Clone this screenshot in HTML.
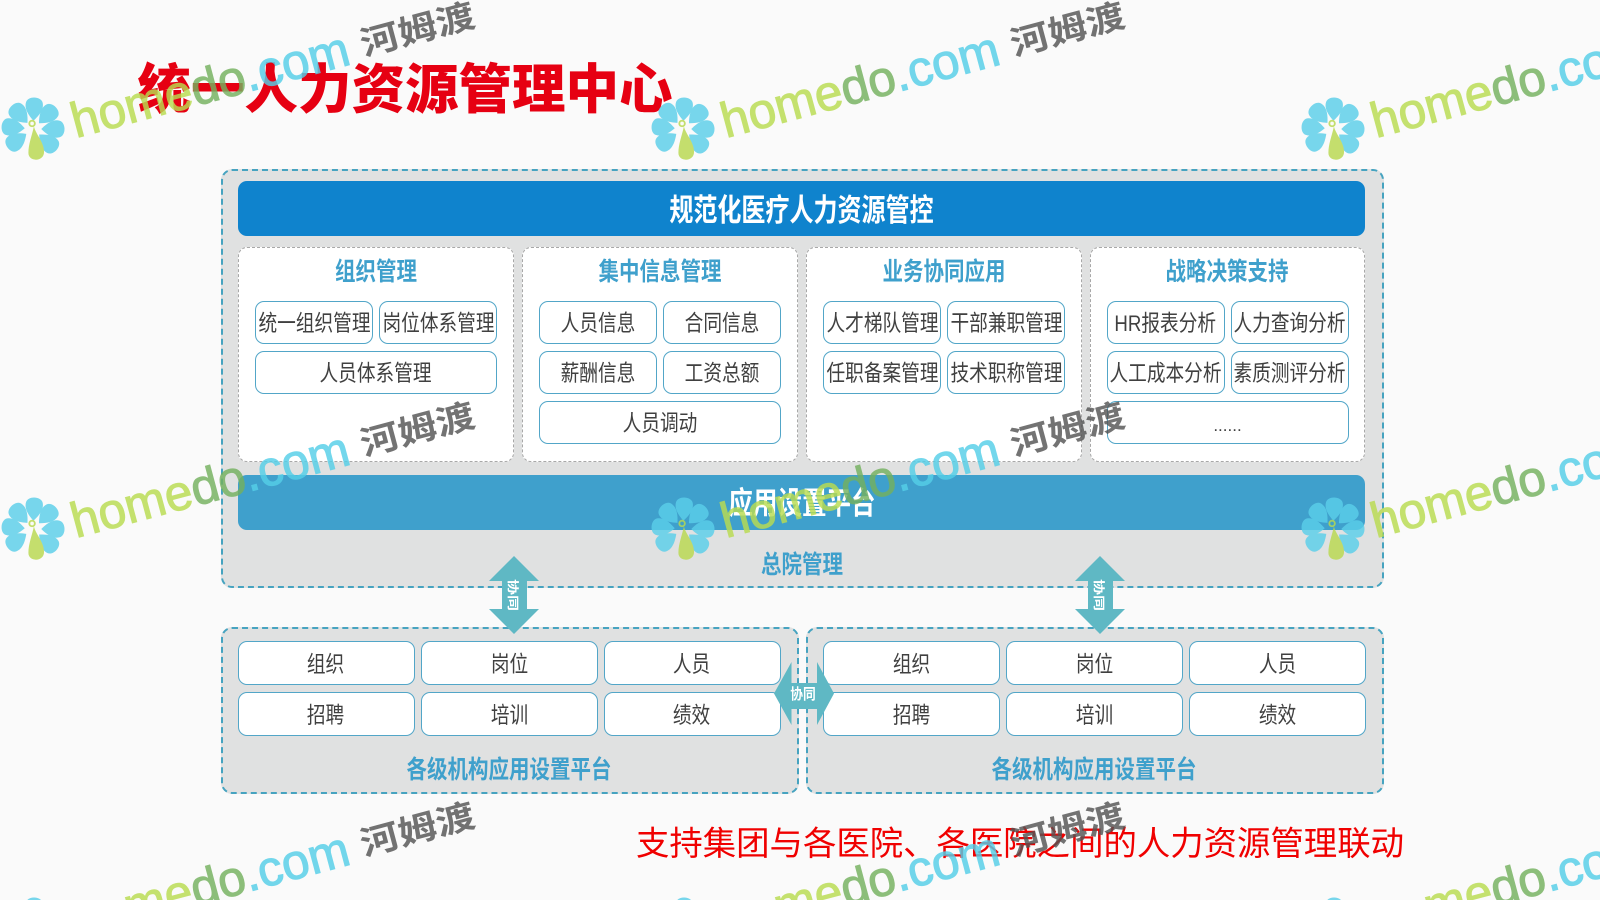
<!DOCTYPE html>
<html lang="zh">
<head>
<meta charset="utf-8">
<title>统一人力资源管理中心</title>
<style>
html,body{margin:0;padding:0;background:#fafafa;width:1600px;height:900px;overflow:hidden}
#p{position:relative;width:1600px;height:900px;overflow:hidden;background:#fafafa;font-family:"Liberation Sans","Noto Sans CJK SC",sans-serif}
#p div{position:absolute;box-sizing:border-box}
.c{display:flex;align-items:center;justify-content:center;white-space:nowrap}
.c span{display:inline-block;white-space:nowrap}
.panel{background:#e0e1e1;border:2px dashed #46a3c0;border-radius:11px}
.card{background:#fff;border:1px dashed #a8a8a8;border-radius:9px;width:275.5px;top:246.5px;height:215.5px}
.ct{left:0;right:0;top:4px;height:36px;color:#3fa0cc;font-weight:700;font-size:25px}
.ct span{transform:scaleX(.82)}
.b{background:#fff;border:1.5px solid #52a6c8;border-radius:9px;color:#404040;font-size:22.5px}
.b span{transform:scaleX(.83)}
.s{width:118px;height:43.5px}
.w{width:242px;height:43.5px;left:16px}
.l1{left:16px}.l2{left:140px}
.r1{top:53px}.r2{top:103px}.r3{top:153px}
.o{width:177px;height:44px}
.y1{top:641px}.y2{top:691.5px}
.lab{color:#3fa0cc;font-weight:700;font-size:25px}
.lab span{transform:scaleX(.82)}
.h{font-size:49.5px;stroke-width:1.1px}
.he{font-size:39px;font-weight:700;fill:#555}
</style>
</head>
<body>
<div id="p">

<div class="panel" style="left:220.5px;top:168.5px;width:1163.5px;height:419.5px"></div>
<div class="c" style="left:238px;top:181px;width:1127px;height:55px;background:#0f83cd;border-radius:9px;color:#fff;font-weight:700;font-size:31px"><span style="transform:scaleX(.775);margin-top:-2px">规范化医疗人力资源管控</span></div>

<div class="card" style="left:238px">
  <div class="ct c"><span>组织管理</span></div>
  <div class="b s c l1 r1"><span>统一组织管理</span></div>
  <div class="b s c l2 r1"><span>岗位体系管理</span></div>
  <div class="b w c r2"><span>人员体系管理</span></div>
</div>
<div class="card" style="left:522px">
  <div class="ct c"><span>集中信息管理</span></div>
  <div class="b s c l1 r1"><span>人员信息</span></div>
  <div class="b s c l2 r1"><span>合同信息</span></div>
  <div class="b s c l1 r2"><span>薪酬信息</span></div>
  <div class="b s c l2 r2"><span>工资总额</span></div>
  <div class="b w c r3"><span>人员调动</span></div>
</div>
<div class="card" style="left:806px">
  <div class="ct c"><span>业务协同应用</span></div>
  <div class="b s c l1 r1"><span>人才梯队管理</span></div>
  <div class="b s c l2 r1"><span>干部兼职管理</span></div>
  <div class="b s c l1 r2"><span>任职备案管理</span></div>
  <div class="b s c l2 r2"><span>技术职称管理</span></div>
</div>
<div class="card" style="left:1089.5px">
  <div class="ct c"><span>战略决策支持</span></div>
  <div class="b s c l1 r1"><span>HR报表分析</span></div>
  <div class="b s c l2 r1"><span>人力查询分析</span></div>
  <div class="b s c l1 r2"><span>人工成本分析</span></div>
  <div class="b s c l2 r2"><span>素质测评分析</span></div>
  <div class="b w c r3" style="font-size:17px;padding-top:8px"><span style="transform:none">......</span></div>
</div>

<div class="c" style="left:238px;top:475px;width:1127px;height:54.5px;background:#3fa0cc;border-radius:9px;color:#fff;font-weight:700;font-size:31px"><span style="transform:scaleX(.79);margin-top:-3px">应用设置平台</span></div>
<div class="lab c" style="left:221px;top:545px;width:1163px;height:36px"><span>总院管理</span></div>

<div class="panel" style="left:220.5px;top:626.5px;width:578px;height:167px"></div>
<div class="panel" style="left:806px;top:626.5px;width:578px;height:167px"></div>

<div class="b o c y1" style="left:237.5px"><span>组织</span></div>
<div class="b o c y1" style="left:421px"><span>岗位</span></div>
<div class="b o c y1" style="left:603.5px"><span>人员</span></div>
<div class="b o c y2" style="left:237.5px"><span>招聘</span></div>
<div class="b o c y2" style="left:421px"><span>培训</span></div>
<div class="b o c y2" style="left:603.5px"><span>绩效</span></div>
<div class="lab c" style="left:221px;top:750px;width:577px;height:36px"><span>各级机构应用设置平台</span></div>

<div class="b o c y1" style="left:823px"><span>组织</span></div>
<div class="b o c y1" style="left:1006px"><span>岗位</span></div>
<div class="b o c y1" style="left:1189px"><span>人员</span></div>
<div class="b o c y2" style="left:823px"><span>招聘</span></div>
<div class="b o c y2" style="left:1006px"><span>培训</span></div>
<div class="b o c y2" style="left:1189px"><span>绩效</span></div>
<div class="lab c" style="left:806px;top:750px;width:577px;height:36px"><span>各级机构应用设置平台</span></div>

<svg width="1600" height="900" style="position:absolute;left:0;top:0">
  <polygon points="514,556 539,581 527,581 527,609 539,609 514,634 489,609 502,609 502,581 489,581" fill="#5fb8c4"/>
  <polygon points="1100,556 1125,581 1113,581 1113,609 1125,609 1100,634 1075,609 1088,609 1088,581 1075,581" fill="#5fb8c4"/>
  <polygon points="774,693.5 791.5,662 791.5,683 817,683 817,662 834,693.5 817,725 817,709 791.5,709 791.5,725" fill="#5fb8c4"/>
  <text transform="translate(509,595) rotate(90) scale(1,.72)" text-anchor="middle" font-family="'Liberation Sans','Noto Sans CJK SC',sans-serif" font-weight="700" font-size="16" fill="#fff">协同</text>
  <text transform="translate(1095,595) rotate(90) scale(1,.72)" text-anchor="middle" font-family="'Liberation Sans','Noto Sans CJK SC',sans-serif" font-weight="700" font-size="16" fill="#fff">协同</text>
  <text transform="translate(803,699) scale(.85,1)" text-anchor="middle" font-family="'Liberation Sans','Noto Sans CJK SC',sans-serif" font-weight="700" font-size="15" fill="#fff">协同</text>
</svg>

<div class="c" style="left:139px;top:53px;width:532px;height:64px;color:#e60012;font-size:53.5px;font-weight:900"><span>统一人力资源管理中心</span></div>
<div class="c" style="left:600px;top:817px;width:840px;height:46px;color:#f00000;font-size:33.4px"><span>支持集团与各医院、各医院之间的人力资源管理联动</span></div>

<svg width="1600" height="900" style="position:absolute;left:0;top:0;opacity:.82" font-family="'Liberation Sans','Noto Sans CJK SC',sans-serif">
  <defs>
    <g id="fl" transform="scale(.92)">
      <g fill="#5bcfea">
        <path d="M0,-9 C-6,-15 -11,-22 -9,-29 C-7,-36 7,-36 9,-29 C11,-22 6,-15 0,-9Z" transform="rotate(3)"/>
        <path d="M0,-9 C-6,-15 -11,-22 -9,-29 C-7,-36 7,-36 9,-29 C11,-22 6,-15 0,-9Z" transform="rotate(-42)"/>
        <path d="M0,-9 C-6,-15 -11,-22 -9,-29 C-7,-36 7,-36 9,-29 C11,-22 6,-15 0,-9Z" transform="rotate(46)"/>
        <path d="M0,-9 C-6,-15 -11,-22 -9,-29 C-7,-36 7,-36 9,-29 C11,-22 6,-15 0,-9Z" transform="rotate(-85)"/>
        <path d="M0,-9 C-6,-15 -11,-22 -9,-29 C-7,-36 7,-36 9,-29 C11,-22 6,-15 0,-9Z" transform="rotate(90)"/>
        <path d="M0,-9 C-6,-15 -11,-22 -9,-29 C-7,-36 7,-36 9,-29 C11,-22 6,-15 0,-9Z" transform="rotate(-126)"/>
        <path d="M0,-9 C-6,-15 -11,-22 -9,-29 C-7,-36 7,-36 9,-29 C11,-22 6,-15 0,-9Z" transform="rotate(132)"/>
      </g>
      <path d="M1,-3 C3,6 12,14 12,25 C12,36 -5,36 -5,26 C-5,16 -1,7 1,-3Z" fill="#b9d94f"/>
      <circle cx="-1" cy="-6" r="3" fill="none" stroke="#b9d94f" stroke-width="2"/>
    </g>
  </defs>

  <g>
    <use href="#fl" x="0" y="0" transform="translate(33,129)"/>
    <text class="h" transform="translate(76,138) rotate(-15)"><tspan fill="#b9dc50" stroke="#b9dc50">home</tspan><tspan fill="#74b15f" stroke="#74b15f">do</tspan><tspan fill="#55cfe8" stroke="#55cfe8">.com</tspan></text>
    <text class="he" transform="translate(364,56) rotate(-15) scale(1,.86)">河姆渡</text>
  </g>
  <g transform="translate(650,0)">
    <use href="#fl" x="0" y="0" transform="translate(33,129)"/>
    <text class="h" transform="translate(76,138) rotate(-15)"><tspan fill="#b9dc50" stroke="#b9dc50">home</tspan><tspan fill="#74b15f" stroke="#74b15f">do</tspan><tspan fill="#55cfe8" stroke="#55cfe8">.com</tspan></text>
    <text class="he" transform="translate(364,56) rotate(-15) scale(1,.86)">河姆渡</text>
  </g>
  <g transform="translate(1300,0)">
    <use href="#fl" x="0" y="0" transform="translate(33,129)"/>
    <text class="h" transform="translate(76,138) rotate(-15)"><tspan fill="#b9dc50" stroke="#b9dc50">home</tspan><tspan fill="#74b15f" stroke="#74b15f">do</tspan><tspan fill="#55cfe8" stroke="#55cfe8">.com</tspan></text>
  </g>

  <g transform="translate(0,400)">
    <use href="#fl" x="0" y="0" transform="translate(33,129)"/>
    <text class="h" transform="translate(76,138) rotate(-15)"><tspan fill="#b9dc50" stroke="#b9dc50">home</tspan><tspan fill="#74b15f" stroke="#74b15f">do</tspan><tspan fill="#55cfe8" stroke="#55cfe8">.com</tspan></text>
    <text class="he" transform="translate(364,56) rotate(-15) scale(1,.86)">河姆渡</text>
  </g>
  <g transform="translate(650,400)">
    <use href="#fl" x="0" y="0" transform="translate(33,129)"/>
    <text class="h" transform="translate(76,138) rotate(-15)"><tspan fill="#b9dc50" stroke="#b9dc50">home</tspan><tspan fill="#74b15f" stroke="#74b15f">do</tspan><tspan fill="#55cfe8" stroke="#55cfe8">.com</tspan></text>
    <text class="he" transform="translate(364,56) rotate(-15) scale(1,.86)">河姆渡</text>
  </g>
  <g transform="translate(1300,400)">
    <use href="#fl" x="0" y="0" transform="translate(33,129)"/>
    <text class="h" transform="translate(76,138) rotate(-15)"><tspan fill="#b9dc50" stroke="#b9dc50">home</tspan><tspan fill="#74b15f" stroke="#74b15f">do</tspan><tspan fill="#55cfe8" stroke="#55cfe8">.com</tspan></text>
  </g>

  <g transform="translate(0,800)">
    <use href="#fl" x="0" y="0" transform="translate(33,129)"/>
    <text class="h" transform="translate(76,138) rotate(-15)"><tspan fill="#b9dc50" stroke="#b9dc50">home</tspan><tspan fill="#74b15f" stroke="#74b15f">do</tspan><tspan fill="#55cfe8" stroke="#55cfe8">.com</tspan></text>
    <text class="he" transform="translate(364,56) rotate(-15) scale(1,.86)">河姆渡</text>
  </g>
  <g transform="translate(650,800)">
    <use href="#fl" x="0" y="0" transform="translate(33,129)"/>
    <text class="h" transform="translate(76,138) rotate(-15)"><tspan fill="#b9dc50" stroke="#b9dc50">home</tspan><tspan fill="#74b15f" stroke="#74b15f">do</tspan><tspan fill="#55cfe8" stroke="#55cfe8">.com</tspan></text>
    <text class="he" transform="translate(364,56) rotate(-15) scale(1,.86)">河姆渡</text>
  </g>
  <g transform="translate(1300,800)">
    <use href="#fl" x="0" y="0" transform="translate(33,129)"/>
    <text class="h" transform="translate(76,138) rotate(-15)"><tspan fill="#b9dc50" stroke="#b9dc50">home</tspan><tspan fill="#74b15f" stroke="#74b15f">do</tspan><tspan fill="#55cfe8" stroke="#55cfe8">.com</tspan></text>
  </g>
</svg>

</div>
</body>
</html>
